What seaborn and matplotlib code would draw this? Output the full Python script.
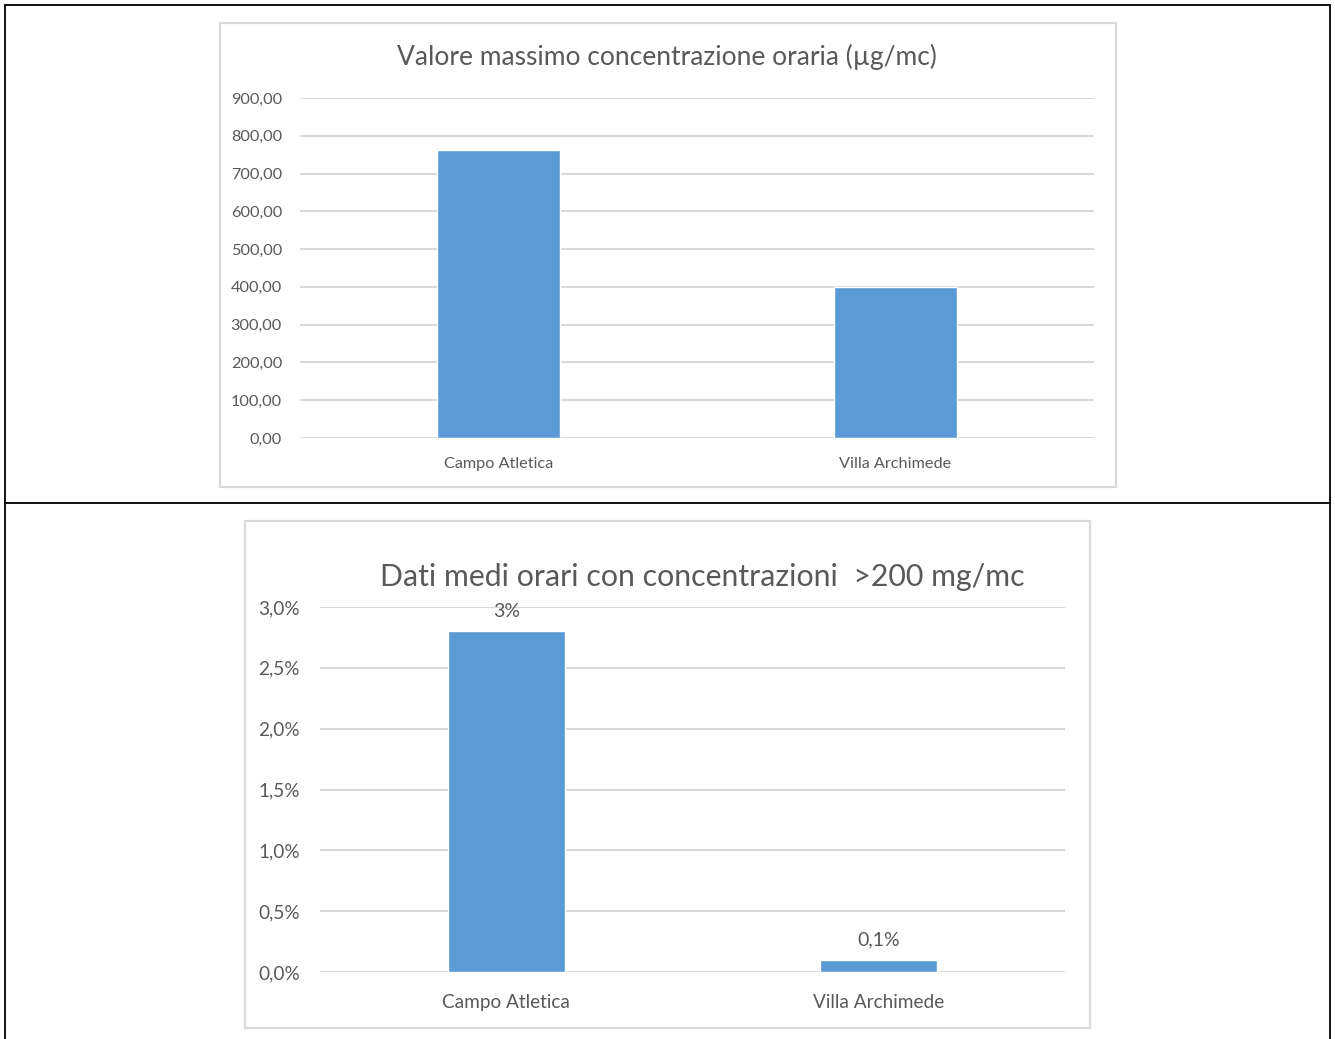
import matplotlib
matplotlib.use("Agg")
import matplotlib.pyplot as plt
import seaborn as sns
import pandas as pd
from matplotlib.patches import Rectangle
from matplotlib.lines import Line2D
from matplotlib.ticker import FuncFormatter

# data
stations = ["Campo Atletica", "Villa Archimede"]
max_conc = [762.0, 400.0]            # µg/mc
pct_over_200 = [2.8, 0.1]            # %
pct_labels = ["3%", "0,1%"]

TITLE_TOP = "Valore massimo concentrazione oraria (\u00b5g/mc)"
TITLE_BOT = "Dati medi orari con concentrazioni  >200 mg/mc"

BAR = "#5b9bd5"
GRID = "#d9d9d9"
TXT = "#595959"
W, H = 1335, 1039

sns.set_theme(style="white")
plt.rcParams['font.family'] = ['Lato', 'DejaVu Sans']

fig = plt.figure(figsize=(W / 100, H / 100), dpi=100)

def px_axes(x0, y0, x1, y1):
    return fig.add_axes([x0 / W, (H - y1) / H, (x1 - x0) / W, (y1 - y0) / H])

def px_box(x0, y0, x1, y1, **kw):
    fig.add_artist(Rectangle((x0 / W, (H - y1) / H), (x1 - x0) / W, (y1 - y0) / H,
                             transform=fig.transFigure, fill=False, **kw))

def px_line(x0, y0, x1, y1, **kw):
    fig.add_artist(Line2D([x0 / W, x1 / W], [(H - y0) / H, (H - y1) / H],
                          transform=fig.transFigure, **kw))

# outer table lines
for seg in [(5, 5, 1330, 5), (5, 5, 5, 1039), (1330, 5, 1330, 1039), (5, 503, 1330, 503)]:
    px_line(*seg, color="black", lw=1.3)

# chart frames
px_box(220, 23, 1116, 487, edgecolor=GRID, lw=1.6)
px_box(245, 521, 1090, 1028, edgecolor=GRID, lw=1.6)

def style_axes(ax, ymax, step, fmt, fs, ypad, xpad):
    ax.set_ylim(0, ymax)
    ax.set_yticks([i * step for i in range(int(round(ymax / step)) + 1)])
    ax.yaxis.set_major_formatter(FuncFormatter(fmt))
    ax.grid(axis="y", color=GRID, lw=1.5)
    ax.set_axisbelow(True)
    for s in ax.spines.values():
        s.set_visible(False)
    ax.set_xlabel("")
    ax.set_ylabel("")
    ax.tick_params(axis="both", length=0, colors=TXT, labelsize=fs)
    ax.tick_params(axis="y", pad=ypad)
    ax.tick_params(axis="x", pad=xpad)

# top chart
ax1 = px_axes(300, 98, 1094, 438)
df1 = pd.DataFrame({"stazione": stations, "valore": max_conc})
sns.barplot(data=df1, x="stazione", y="valore", color=BAR, width=0.31,
            saturation=1, ax=ax1)
style_axes(ax1, 900, 100, lambda v, p: f"{v:.2f}".replace(".", ","), 11.7, 13, 13.5)
fig.text(667 / W, (H - 57) / H, TITLE_TOP, ha="center", va="center",
         fontsize=19, color=TXT)

# bottom chart
ax2 = px_axes(320, 607, 1065, 972)
df2 = pd.DataFrame({"stazione": stations, "perc": pct_over_200})
sns.barplot(data=df2, x="stazione", y="perc", color=BAR, width=0.315,
            saturation=1, ax=ax2)
style_axes(ax2, 3.0, 0.5, lambda v, p: f"{v:.1f}%".replace(".", ","), 13.7, 14.5, 16)
for i, (v, lab) in enumerate(zip(pct_over_200, pct_labels)):
    ax2.annotate(lab, (i, v), xytext=(0, 8), textcoords="offset points",
                 ha="center", va="bottom", fontsize=14, color=TXT)
fig.text(702 / W, (H - 577) / H, TITLE_BOT, ha="center", va="center",
         fontsize=21.8, color=TXT)

fig.savefig("out.png", dpi=100, facecolor="white")
